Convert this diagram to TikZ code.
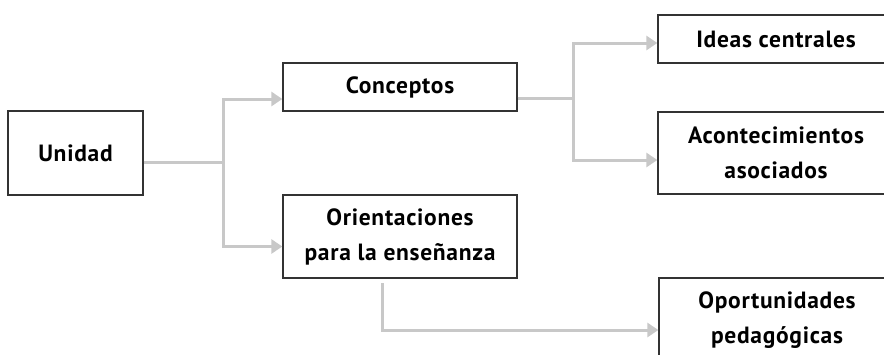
\documentclass[tikz,border=0pt]{standalone}
\usepackage{fontspec}
\setmainfont{PT Sans}[LetterSpace=3]
\usetikzlibrary{arrows.meta}
\definecolor{conncol}{HTML}{C8C8C8}
\definecolor{boxcol}{HTML}{333333}
\tikzset{
  box/.style={draw=boxcol, line width=1.3pt, fill=white, align=center,
    font=\fontsize{23.5}{35}\selectfont\bfseries, inner sep=0pt, text=black},
  conn/.style={draw=conncol, line width=3pt},
  arr/.style={conn, -{Triangle[length=11pt,width=14pt]}},
}
\begin{document}
\begin{tikzpicture}[x=1pt,y=-1pt]
\useasboundingbox (0,0) rectangle (884,354);
\clip (0,0) rectangle (884,354);
\node[box, minimum width=135pt, minimum height=84pt] (u) at (75.5,153) {Unidad};
\node[box, minimum width=234pt, minimum height=48pt] (c) at (400,87) {Conceptos};
\node[box, minimum width=234pt, minimum height=83pt] (o) at (400,236.5) {Orientaciones\\para la enseñanza};
\node[box, minimum width=236pt, minimum height=48pt] (i) at (776,39) {Ideas centrales};
\node[box, minimum width=236pt, minimum height=82pt] (a) at (776,153) {Acontecimientos\\asociados};
\node[box, minimum width=236pt, minimum height=84pt] (p) at (777,320) {Oportunidades\\pedagógicas};
\coordinate (j1) at (223,162);
\coordinate (j2) at (573,98);
\coordinate (j3) at (382,283);
\draw[conn] ([yshift=-9pt]u.east) -- (j1);
\draw[arr] (j1) |- ([yshift=-12pt]c.west);
\draw[arr] (j1) |- ([yshift=-10pt]o.west);
\draw[conn] ([yshift=-11pt]c.east) -- (j2);
\draw[arr] (j2) |- ([yshift=-4pt]i.west);
\draw[arr] (j2) |- ([yshift=-7pt]a.west);
\draw[arr] (j3) |- ([yshift=-10pt]p.west);
\end{tikzpicture}
\end{document}
